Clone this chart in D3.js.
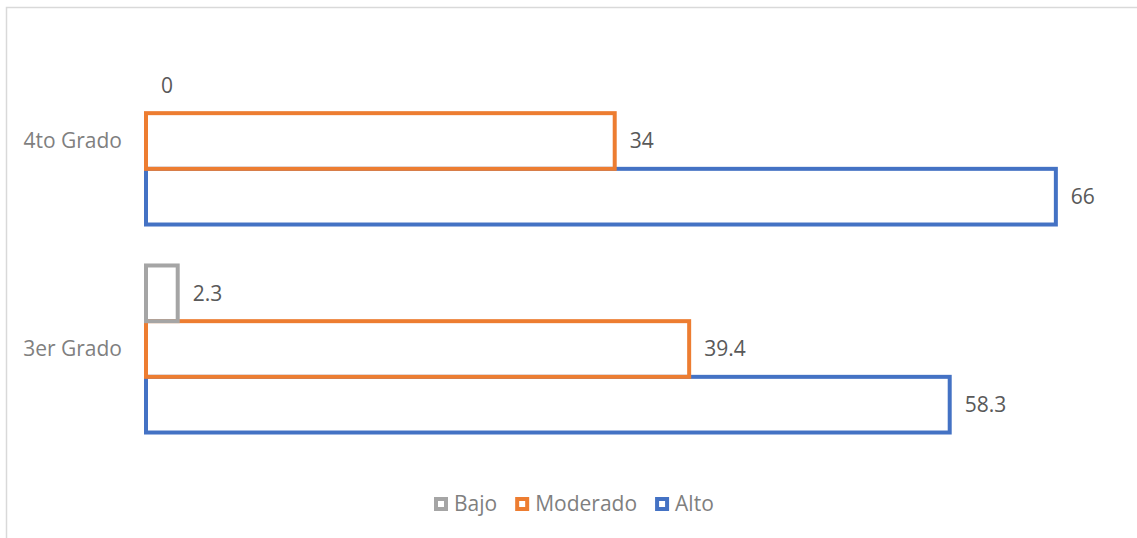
<html>
<head>
<script src="https://d3js.org/d3.v7.min.js"></script>
<style>
  body { margin: 0; background: #fff; overflow: hidden; }
  svg { display: block; }
  text { font-family: "Open Sans", "Noto Sans", sans-serif; }
</style>
</head>
<body>
<svg id="chart" width="1137" height="538"></svg>
<script>
// data
var grados = ["4to Grado", "3er Grado"];
var niveles = ["Bajo", "Moderado", "Alto"];
var colores = ["#a5a5a5", "#ed7d31", "#4472c4"];
var bajo = [0, 2.3];
var moderado = [34, 39.4];
var alto = [66, 58.3];

var valores = [bajo, moderado, alto];
var svg = d3.select("#chart");

// outer frame
svg.append("rect")
  .attr("x", 6.5).attr("y", 7.5)
  .attr("width", 1200).attr("height", 600)
  .attr("fill", "none").attr("stroke", "#d9d9d9").attr("stroke-width", 1.5);

var x = d3.scaleLinear().domain([0, 70]).range([146, 1111]);
var y = d3.scaleBand().domain(grados).range([37, 453]).paddingInner(0.197).paddingOuter(0.0985);
var yi = d3.scaleBand().domain(niveles).range([0, y.bandwidth()]);

var bars = [];
niveles.forEach(function(n, s) {
  grados.forEach(function(g, i) {
    bars.push({nivel: n, grado: g, v: valores[s][i], color: colores[s], s: s});
  });
});

// draw Alto first so the upper bars sit on top of it
var orden = bars.slice().sort(function(a, b) { return b.s - a.s; });
svg.append("g").selectAll("rect")
  .data(orden.filter(function(d) { return d.v > 0; }))
  .enter().append("rect")
  .attr("x", x(0))
  .attr("y", function(d) { return y(d.grado) + yi(d.nivel); })
  .attr("width", function(d) { return x(d.v) - x(0); })
  .attr("height", yi.bandwidth())
  .attr("fill", "none")
  .attr("stroke", function(d) { return d.color; })
  .attr("stroke-width", 4);

svg.append("g").selectAll("text")
  .data(bars)
  .enter().append("text")
  .attr("x", function(d) { return x(d.v) + 15; })
  .attr("y", function(d) { return y(d.grado) + yi(d.nivel) + yi.bandwidth() / 2; })
  .attr("dy", "0.35em")
  .attr("font-size", 21)
  .attr("fill", "#595959")
  .text(function(d) { return d.v; });

// category labels
svg.append("g").selectAll("text")
  .data(grados)
  .enter().append("text")
  .attr("x", 122)
  .attr("y", function(d) { return y(d) + y.bandwidth() / 2; })
  .attr("dy", "0.35em")
  .attr("text-anchor", "end")
  .attr("font-size", 21)
  .attr("fill", "#7f7f7f")
  .text(function(d) { return d; });

// legend
var leg = svg.append("g");
var lx = 436;
niveles.forEach(function(n, s) {
  leg.append("rect")
    .attr("x", lx).attr("y", 499)
    .attr("width", 10).attr("height", 10)
    .attr("fill", "#fff").attr("stroke", colores[s]).attr("stroke-width", 4);
  var t = leg.append("text")
    .attr("x", lx + 18).attr("y", 504).attr("dy", "0.35em")
    .attr("font-size", 21).attr("fill", "#7f7f7f")
    .text(n);
  lx += 18 + t.node().getComputedTextLength() + 20;
});
</script>
</body>
</html>
